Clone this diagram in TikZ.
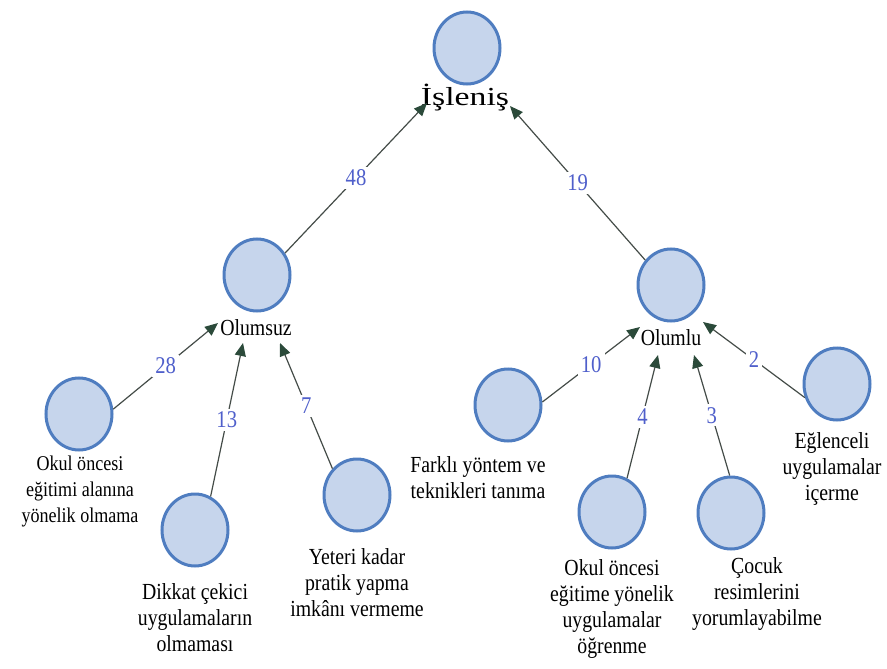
\documentclass[tikz,border=0pt]{standalone}
\usepackage{fontspec}
\setmainfont{Liberation Serif}
\newfontfamily\txtfont[FakeStretch=0.86]{Liberation Serif}
\newfontfamily\bigfont[FakeStretch=1.3]{Liberation Serif}
\usetikzlibrary{shapes.geometric,arrows.meta}
\definecolor{circfill}{HTML}{C6D5EC}
\definecolor{circdraw}{HTML}{4F7DC0}
\definecolor{arrline}{HTML}{444C48}
\definecolor{arrhead}{HTML}{2B4A3A}
\definecolor{numblue}{HTML}{4F5FCB}
\begin{document}
\begin{tikzpicture}[x=1pt,y=-1pt,
 circ/.style={ellipse,draw=circdraw,fill=circfill,line width=3pt,minimum width=66pt,minimum height=72pt,inner sep=0pt},
 lab/.style={align=center,inner sep=0pt,font=\txtfont\fontsize{23}{26}\selectfont},
 num/.style={fill=white,inner sep=3pt,text=numblue,font=\txtfont\fontsize{24}{24}\selectfont},
 arr/.style={draw=arrline,line width=1.2pt,-{Triangle[length=13pt,width=11pt,color=arrhead]}}]
\useasboundingbox (0,0) rectangle (887,669);

\node[circ] (top) at (467,48) {};
\node[lab,font=\bigfont\fontsize{26}{26}\selectfont] (islenis) at (465,98) {İşleniş};

\node[circ] (neg) at (257,275) {};
\node[lab] (negL) at (256,328) {Olumsuz};
\node[circ] (pos) at (671,285) {};
\node[lab] (posL) at (671,338) {Olumlu};

\node[circ] (n1) at (79,414) {};
\node[lab,font=\txtfont\fontsize{21}{26}\selectfont] (n1L) at (80,491) {Okul öncesi\\eğitimi alanına\\yönelik olmama};
\node[circ] (n2) at (195,530) {};
\node[lab] (n2L) at (195,618) {Dikkat çekici\\uygulamaların\\olmaması};
\node[circ] (n3) at (357,495) {};
\node[lab] (n3L) at (357,583) {Yeteri kadar\\pratik yapma\\imkânı vermeme};

\node[circ] (p1) at (508,405) {};
\node[lab] (p1L) at (478,478) {Farklı yöntem ve\\teknikleri tanıma};
\node[circ] (p2) at (612,512) {};
\node[lab] (p2L) at (612,609) {Okul öncesi\\eğitime yönelik\\uygulamalar\\öğrenme};
\node[circ] (p3) at (731,513) {};
\node[lab] (p3L) at (757,594) {Çocuk\\resimlerini\\yorumlayabilme};
\node[circ] (p4) at (837,384) {};
\node[lab] (p4L) at (832,469) {Eğlenceli\\uygulamalar\\içerme};

\draw[arr] (neg.38) -- node[num]{48} ([shift={(-38,5)}]islenis.center);
\draw[arr] (pos.136) -- node[num]{19} ([shift={(45,8)}]islenis.center);
\draw[arr] (n1.8) -- node[num]{28} ([shift={(-38,-5)}]negL.center);
\draw[arr] (n2.65) -- node[num]{13} ([shift={(-13,15)}]negL.center);
\draw[arr] (n3.133) -- node[num]{7} ([shift={(24,15)}]negL.center);
\draw[arr] (p1.5) -- node[num]{10} ([shift={(-31,-11)}]posL.center);
\draw[arr] (p2.66) -- node[num]{4} ([shift={(-13,17)}]posL.center);
\draw[arr] (p3.92) -- node[num]{3} ([shift={(23,17)}]posL.center);
\draw[arr] (p4.203) -- node[num]{2} ([shift={(32,-16)}]posL.center);
\end{tikzpicture}
\end{document}
